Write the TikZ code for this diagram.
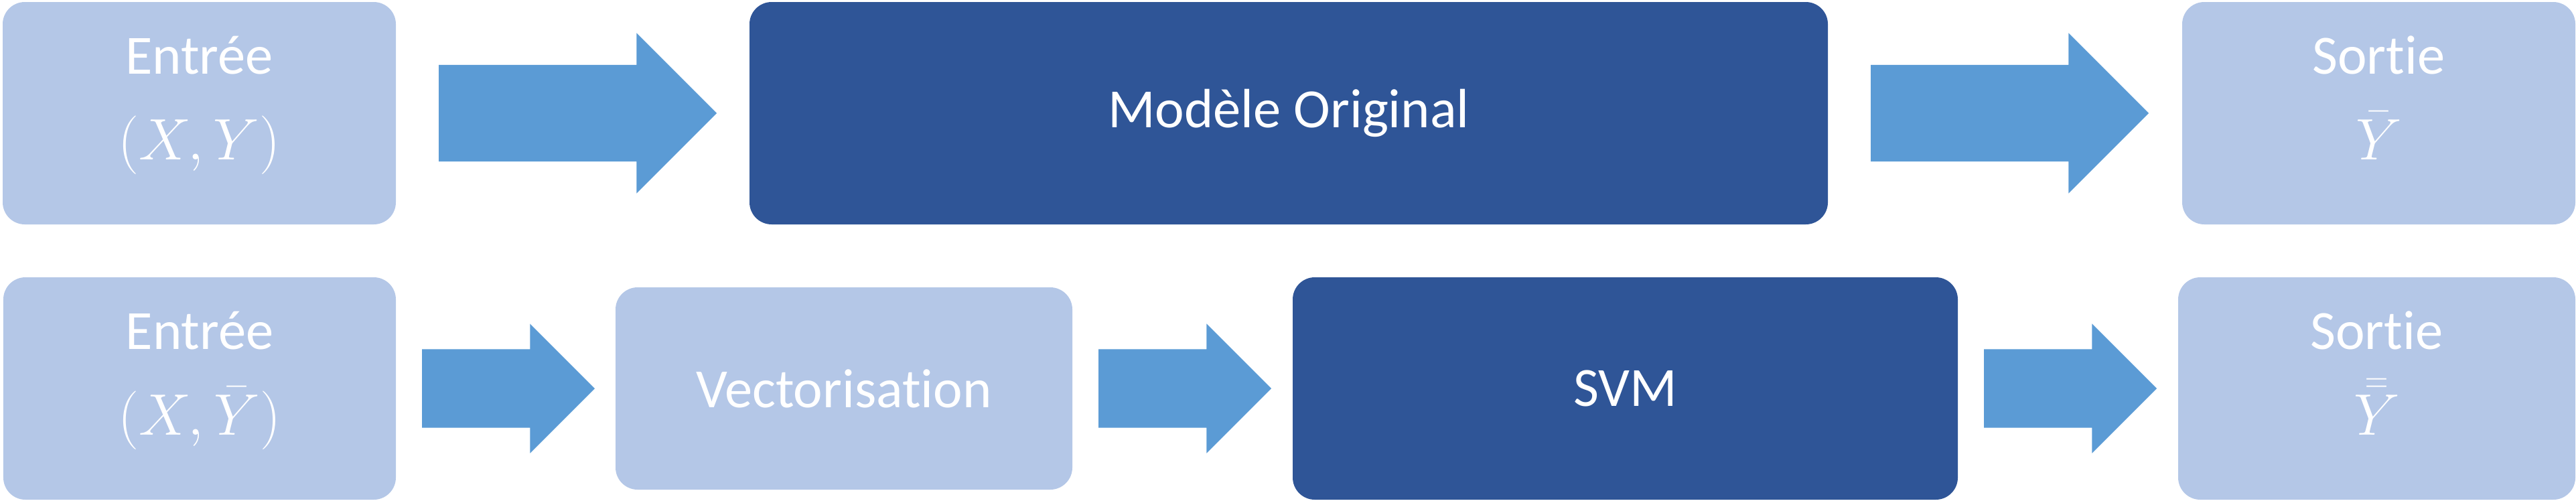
\documentclass[tikz,border=0pt]{standalone}
\usepackage{fontspec}
\setmainfont{Carlito}[Ligatures=NoCommon]
\usepackage{xcolor}
\usetikzlibrary{shapes.arrows}

\definecolor{bleuclair}{HTML}{B4C7E7}
\definecolor{bleufonce}{HTML}{2F5597}
\definecolor{bleufleche}{HTML}{5B9BD5}

\begin{document}
\begin{tikzpicture}[
  boite/.style={rounded corners=0.33cm,align=center,text=white,inner sep=0pt,outer sep=0pt,font=\fontsize{23.5}{28.2}\selectfont},
  claire/.style={boite,fill=bleuclair},
  foncee/.style={boite,fill=bleufonce},
  fleche/.style={single arrow,fill=bleufleche,inner xsep=0pt,outer sep=0pt,single arrow tip angle=90,anchor=tail},
  grande/.style={fleche,minimum height=4.15cm,inner ysep=0.715cm,single arrow head extend=0.475cm,xshift=0.64cm},
  petite/.style={fleche,minimum height=2.58cm,inner ysep=0.58cm,single arrow head extend=0.38cm,xshift=0.39cm}
]

\useasboundingbox (0,0) rectangle (38.46,-7.47);


% 1
\node[claire,minimum width=5.87cm,minimum height=3.32cm] (EntreeHaut) at (2.975,-1.69) {\rule{0pt}{0.7cm}Entrée\\[0.28cm]$(X,Y)$\rule[-0.59cm]{0pt}{0.59cm}};
\node[foncee,minimum width=16.1cm,minimum height=3.32cm] (Modele) at (19.24,-1.69) {Modèle Original};
\node[claire,minimum width=5.87cm,minimum height=3.32cm] (SortieHaut) at (35.515,-1.69) {\rule{0pt}{0.7cm}Sortie\\[0.28cm]$\bar{Y}$\rule[-0.59cm]{0pt}{0.59cm}};

\node[grande] (FlecheA) at (EntreeHaut.east) {};
\node[grande] (FlecheB) at (Modele.east) {};



% 2
\node[claire,minimum width=5.86cm,minimum height=3.32cm] (EntreeBas) at (2.98,-5.80) {\rule{0pt}{0.7cm}Entrée\\[0.28cm]$(X,\bar{Y})$\rule[-0.59cm]{0pt}{0.59cm}};
\node[claire,minimum width=6.82cm,minimum height=3.02cm] (Vecto) at (12.6,-5.80) {Vectorisation};
\node[foncee,minimum width=9.93cm,minimum height=3.32cm] (SVM) at (24.265,-5.80) {SVM};
\node[claire,minimum width=5.93cm,minimum height=3.32cm] (SortieBas) at (35.485,-5.80) {\rule{0pt}{0.7cm}Sortie\\[0.28cm]$\bar{\bar{Y}}$\rule[-0.59cm]{0pt}{0.59cm}};

\node[petite] (FlecheC) at (EntreeBas.east) {};
\node[petite] (FlecheD) at (Vecto.east) {};
\node[petite] (FlecheE) at (SVM.east) {};


\end{tikzpicture}
\end{document}
